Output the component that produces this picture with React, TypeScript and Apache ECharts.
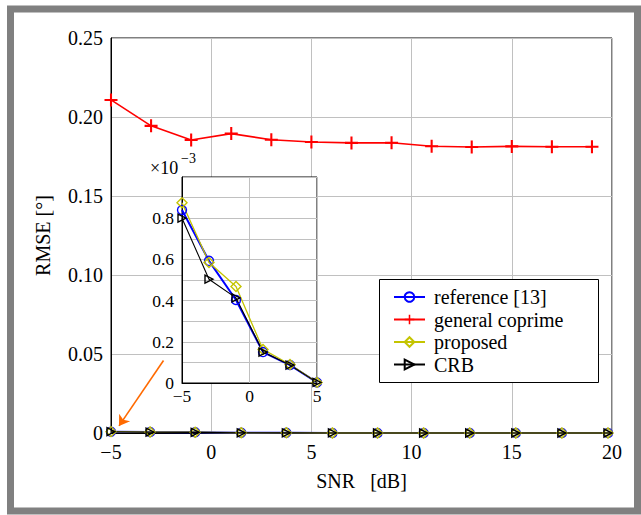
import React, { useEffect, useRef } from "react";
import * as echarts from "echarts";

// ---- data ----
const snrCoprime = [-5, -3, -1, 1, 3, 5, 7, 9, 11, 13, 15, 17, 19];
const rmseCoprime = [0.2108, 0.1944, 0.1854, 0.1895, 0.1856, 0.1842, 0.1836, 0.1837, 0.1815, 0.181, 0.1814, 0.1812, 0.1812];

const snrLow = [-5, -3.05, -0.8, 1.5, 3.75, 6.05, 8.3, 10.6, 12.9, 15.2, 17.5, 19.8, 20];
const rmseRefLow = [0.00084, 0.00059, 0.0004, 0.00015, 0.00009, 0.00001, 0, 0, 0, 0, 0, 0, 0];
const rmsePropLow = [0.00087, 0.00059, 0.00047, 0.00016, 0.00009, 0.00001, 0, 0, 0, 0, 0, 0, 0];
const rmseCrbLow = [0.0008, 0.0005, 0.00041, 0.00015, 0.00009, 0.00001, 0, 0, 0, 0, 0, 0, 0];

// inset (units of 1e-3)
const snrInset = [-5, -3, -1, 1, 3, 5];
const refInset = [0.84, 0.593, 0.403, 0.15, 0.087, 0.003];
const propInset = [0.875, 0.585, 0.468, 0.163, 0.09, 0.003];
const crbInset = [0.8, 0.504, 0.413, 0.15, 0.087, 0.003];

const mainXTicks = [-5, 0, 5, 10, 15, 20];
const mainYTicks = [0, 0.05, 0.1, 0.15, 0.2, 0.25];

const NAMES = ["reference [13]", "general coprime", "proposed", "CRB"];

const FONT = "Liberation Serif";
const BLUE = "#0000ff";
const RED = "#ff0000";
const YELLOW = "#c4c400";
const BLACK = "#000000";
const GRIDC = "#c0c0c0";
const PLUS = "path://M4.2,0h1.6v4.2h4.2v1.6h-4.2v4.2h-1.6v-4.2h-4.2v-1.6h4.2z";

const minus = (v: number) => (v < 0 ? "\u2212" + Math.abs(v) : String(v));

function lowData(ys: number[]) {
  return snrLow.map((x, i) =>
    i === snrLow.length - 1 ? { value: [x, ys[i]], symbol: "none" } : [x, ys[i]]
  );
}
const pair = (xs: number[], ys: number[]) => xs.map((x, i) => [x, ys[i]]);

export default function App() {
  const ref = useRef<HTMLDivElement>(null);
  useEffect(() => {
    if (!ref.current) return;
    const chart = echarts.init(ref.current, null, { renderer: "svg" });

    const styles = [
      { color: BLUE, symbol: "circle", size: 9, width: 2, rot: 0, filled: false },
      { color: RED, symbol: PLUS, size: 13, width: 1.6, rot: 0, filled: true },
      { color: YELLOW, symbol: "diamond", size: 10, width: 1.3, rot: 0, filled: false },
      { color: BLACK, symbol: "triangle", size: 8, width: 1.1, rot: -90, filled: false },
    ];
    const mk = (k: number, data: any[], xi: number, z: number, extra: any = {}) => ({
      type: "line",
      name: NAMES[k],
      xAxisIndex: xi,
      yAxisIndex: xi,
      data,
      z,
      clip: false,
      symbol: styles[k].symbol,
      symbolSize: styles[k].size,
      symbolRotate: styles[k].rot,
      showSymbol: true,
      lineStyle: { color: styles[k].color, width: styles[k].width },
      itemStyle: styles[k].filled
        ? { color: styles[k].color, borderWidth: 0 }
        : { color: "transparent", borderColor: styles[k].color, borderWidth: 1.4 },
      emphasis: { disabled: true },
      ...extra,
    });

    const axisLabelMain = { fontFamily: FONT, fontSize: 20, color: "#000" };
    const axisLabelInset = { fontFamily: FONT, fontSize: 17.5, color: "#000" };

    chart.setOption({
      animation: false,
      backgroundColor: "#fff",
      textStyle: { fontFamily: FONT, color: "#000" },
      title: [
        {
          text: "×10", left: 150, top: 159, padding: 0, z: 12,
          textStyle: { fontFamily: FONT, fontSize: 18, fontWeight: "normal", color: "#000" },
        },
        {
          text: "\u22123", left: 181, top: 151, padding: 0, z: 12,
          textStyle: { fontFamily: FONT, fontSize: 14, fontWeight: "normal", color: "#000" },
        },
      ],
      grid: [
        { left: 111, top: 38, width: 501, height: 395, show: true, borderColor: "#000", borderWidth: 1, z: 0 },
        { left: 182, top: 177, width: 135, height: 206, show: true, backgroundColor: "#fff", borderColor: "#000", borderWidth: 1, z: 3 },
      ],
      xAxis: [
        {
          type: "value", gridIndex: 0, min: -5, max: 20, interval: 5, z: 1,
          axisLine: { show: true, onZero: false, lineStyle: { color: "#000", width: 1 } },
          axisTick: { show: false },
          splitLine: { show: true, lineStyle: { color: GRIDC, width: 1 } },
          axisLabel: { ...axisLabelMain, margin: 9, formatter: (v: number) => (mainXTicks.includes(v) ? minus(v) : "") },
          name: "SNR   [dB]", nameLocation: "middle", nameGap: 38,
          nameTextStyle: { fontFamily: FONT, fontSize: 20, color: "#000" },
        },
        {
          type: "value", gridIndex: 1, min: -5, max: 5, interval: 5, z: 4,
          axisLine: { show: true, onZero: false, lineStyle: { color: "#000", width: 1 } },
          axisTick: { show: false },
          splitLine: { show: true, lineStyle: { color: GRIDC, width: 1 } },
          axisLabel: { ...axisLabelInset, margin: 4, formatter: (v: number) => minus(v) },
        },
      ],
      yAxis: [
        {
          type: "value", gridIndex: 0, min: 0, max: 0.25, interval: 0.05, z: 1,
          axisLine: { show: true, onZero: false, lineStyle: { color: "#000", width: 1 } },
          axisTick: { show: false },
          splitLine: { show: true, lineStyle: { color: GRIDC, width: 1 } },
          axisLabel: {
            ...axisLabelMain, margin: 8,
            formatter: (v: number) => {
              const t = mainYTicks.find((m) => Math.abs(m - v) < 1e-9);
              return t === undefined ? "" : t === 0 ? "0" : t.toFixed(2);
            },
          },
          name: "RMSE [°]", nameLocation: "middle", nameGap: 58,
          nameTextStyle: { fontFamily: FONT, fontSize: 20, color: "#000" },
        },
        {
          type: "value", gridIndex: 1, min: 0, max: 1.0, interval: 0.1, z: 4,
          axisLine: { show: true, onZero: false, lineStyle: { color: "#000", width: 1 } },
          axisTick: { show: false },
          splitLine: { show: true, lineStyle: { color: GRIDC, width: 1 } },
          axisLabel: {
            ...axisLabelInset, margin: 8,
            formatter: (v: number) => {
              const r = Math.round(v * 10);
              if (r % 2 !== 0 || r >= 10) return "";
              return r === 0 ? "0" : (r / 10).toFixed(1);
            },
          },
        },
      ],
      legend: {
        show: true,
        orient: "vertical",
        left: 393,
        top: 286,
        padding: 0,
        itemGap: 0.5,
        itemWidth: 31,
        itemHeight: 12,
        z: 11,
        data: NAMES,
        selectedMode: false,
        textStyle: { fontFamily: FONT, fontSize: 20, color: "#000", lineHeight: 22, padding: [0, 0, 0, 4] },
      },
      graphic: [
        {
          type: "rect", z: 10,
          shape: { x: 379.5, y: 279.5, width: 219, height: 103 },
          style: { fill: "#fff", stroke: "#000", lineWidth: 1 },
        },
        {
          type: "rect", z: 20, silent: true,
          shape: { x: 10.5, y: 9, width: 627, height: 502 },
          style: { fill: "none", stroke: "#808080", lineWidth: 7 },
        },
      ],
      series: [
        mk(0, lowData(rmseRefLow), 0, 2),
        mk(1, pair(snrCoprime, rmseCoprime), 0, 2),
        mk(2, lowData(rmsePropLow), 0, 2),
        mk(3, lowData(rmseCrbLow), 0, 2),
        mk(0, pair(snrInset, refInset), 1, 5),
        mk(2, pair(snrInset, propInset), 1, 5),
        mk(3, pair(snrInset, crbInset), 1, 5),
        {
          type: "lines",
          coordinateSystem: "cartesian2d",
          xAxisIndex: 0,
          yAxisIndex: 0,
          z: 8,
          silent: true,
          symbol: ["none", "arrow"],
          symbolSize: 10,
          lineStyle: { color: "#ff6a00", width: 1.6, opacity: 1 },
          data: [{ coords: [[-2.38, 0.0459], [-4.6, 0.0045]] }],
        },
      ],
    });
    return () => chart.dispose();
  }, []);
  return (
    <div
      ref={ref}
      style={{ position: "absolute", left: 0, top: 0, width: 641, height: 515 }}
    />
  );
}
